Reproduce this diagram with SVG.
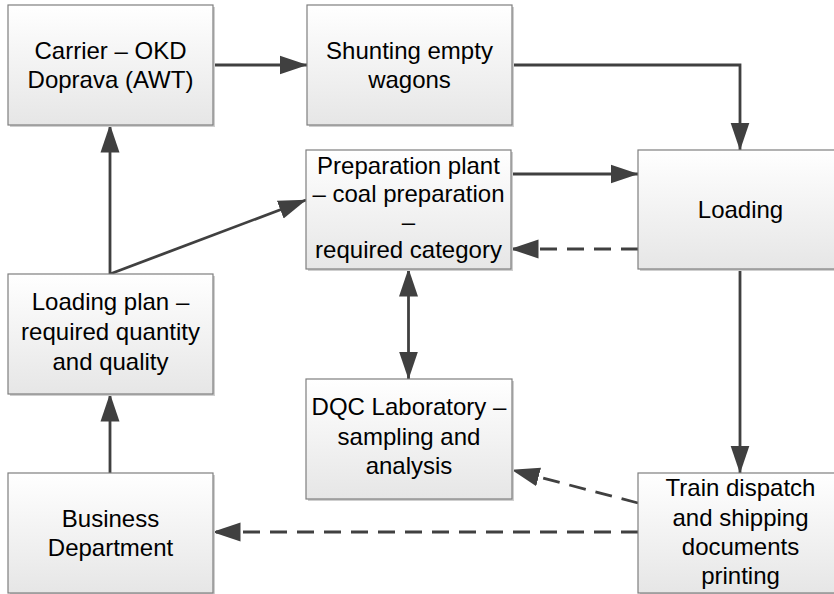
<svg xmlns="http://www.w3.org/2000/svg" width="834" height="594" viewBox="0 0 834 594">
<defs>
<linearGradient id="g" x1="0" y1="0" x2="0" y2="1">
<stop offset="0" stop-color="#ffffff"/>
<stop offset="1" stop-color="#e6e6e6"/>
</linearGradient>
<marker id="ah" markerUnits="userSpaceOnUse" markerWidth="28" markerHeight="20" viewBox="0 0 28 20" refX="27.5" refY="10" orient="auto-start-reverse">
<path d="M0,0.5 L28,10 L0,19.5 Z" fill="#404040" stroke="none"/>
</marker>
</defs>
<style>
.sh{fill:#cfcfcf;stroke:none}
.box{fill:url(#g);stroke:#7f7f7f;stroke-width:1.2}
.t{font-family:"Liberation Sans",Arial,sans-serif;font-size:24px;fill:#000;text-anchor:middle}
.c{fill:none;stroke:#404040;stroke-width:2.8;marker-end:url(#ah)}
.d{stroke-dasharray:17 10}
</style>
<rect width="834" height="594" fill="#ffffff"/>
<g id="connectors">
<path class="c" d="M213,65 L307,65"/>
<path class="c" d="M511,65 L740,65 L740,150"/>
<path class="c" d="M511,174 L638,174"/>
<path class="c d" d="M638,249 L511,249"/>
<path class="c" d="M740,269 L740,473"/>
<path class="c d" d="M638,503 L512,470"/>
<path class="c d" d="M638,532 L213,532"/>
<path class="c" style="marker-start:url(#ah)" d="M408.5,269 L408.5,379"/>
<path class="c" d="M110,473 L110,394"/>
<path class="c" d="M110,274 L110,125"/>
<path class="c" d="M110,274 L306,200"/>
</g>
<g id="carrier">
<rect class="sh" x="10" y="7" width="205" height="120"/>
<rect class="box" x="8" y="5" width="205" height="120"/>
<text class="t" x="110.5" y="59">Carrier – OKD</text>
<text class="t" x="110.5" y="88">Doprava (AWT)</text>
</g>
<g id="shunting">
<rect class="sh" x="309" y="7" width="205" height="120"/>
<rect class="box" x="307" y="5" width="205" height="120"/>
<text class="t" x="409.5" y="59">Shunting empty</text>
<text class="t" x="409.5" y="88">wagons</text>
</g>
<g id="preparation">
<rect class="sh" x="308" y="152" width="205" height="119"/>
<rect class="box" x="306" y="150" width="205" height="119"/>
<text class="t" x="408.5" y="174">Preparation plant</text>
<text class="t" x="408.5" y="202">– coal preparation</text>
<text class="t" x="408.5" y="230">–</text>
<text class="t" x="408.5" y="258">required category</text>
</g>
<g id="loading">
<rect class="sh" x="640" y="152" width="205" height="119"/>
<rect class="box" x="638" y="150" width="205" height="119"/>
<text class="t" x="740.5" y="218">Loading</text>
</g>
<g id="loadingplan">
<rect class="sh" x="10" y="276" width="205" height="120"/>
<rect class="box" x="8" y="274" width="205" height="120"/>
<text class="t" x="110.5" y="310">Loading plan –</text>
<text class="t" x="110.5" y="340">required quantity</text>
<text class="t" x="110.5" y="370">and quality</text>
</g>
<g id="dqc">
<rect class="sh" x="308" y="381" width="206" height="120"/>
<rect class="box" x="306" y="379" width="206" height="120"/>
<text class="t" x="409" y="415">DQC Laboratory –</text>
<text class="t" x="409" y="445">sampling and</text>
<text class="t" x="409" y="474">analysis</text>
</g>
<g id="business">
<rect class="sh" x="10" y="475" width="205" height="120"/>
<rect class="box" x="8" y="473" width="205" height="120"/>
<text class="t" x="110.5" y="527">Business</text>
<text class="t" x="110.5" y="556">Department</text>
</g>
<g id="train">
<rect class="sh" x="640" y="475" width="205" height="120"/>
<rect class="box" x="638" y="473" width="205" height="120"/>
<text class="t" x="740.5" y="496">Train dispatch</text>
<text class="t" x="740.5" y="526">and shipping</text>
<text class="t" x="740.5" y="555">documents</text>
<text class="t" x="740.5" y="584">printing</text>
</g>
</svg>
